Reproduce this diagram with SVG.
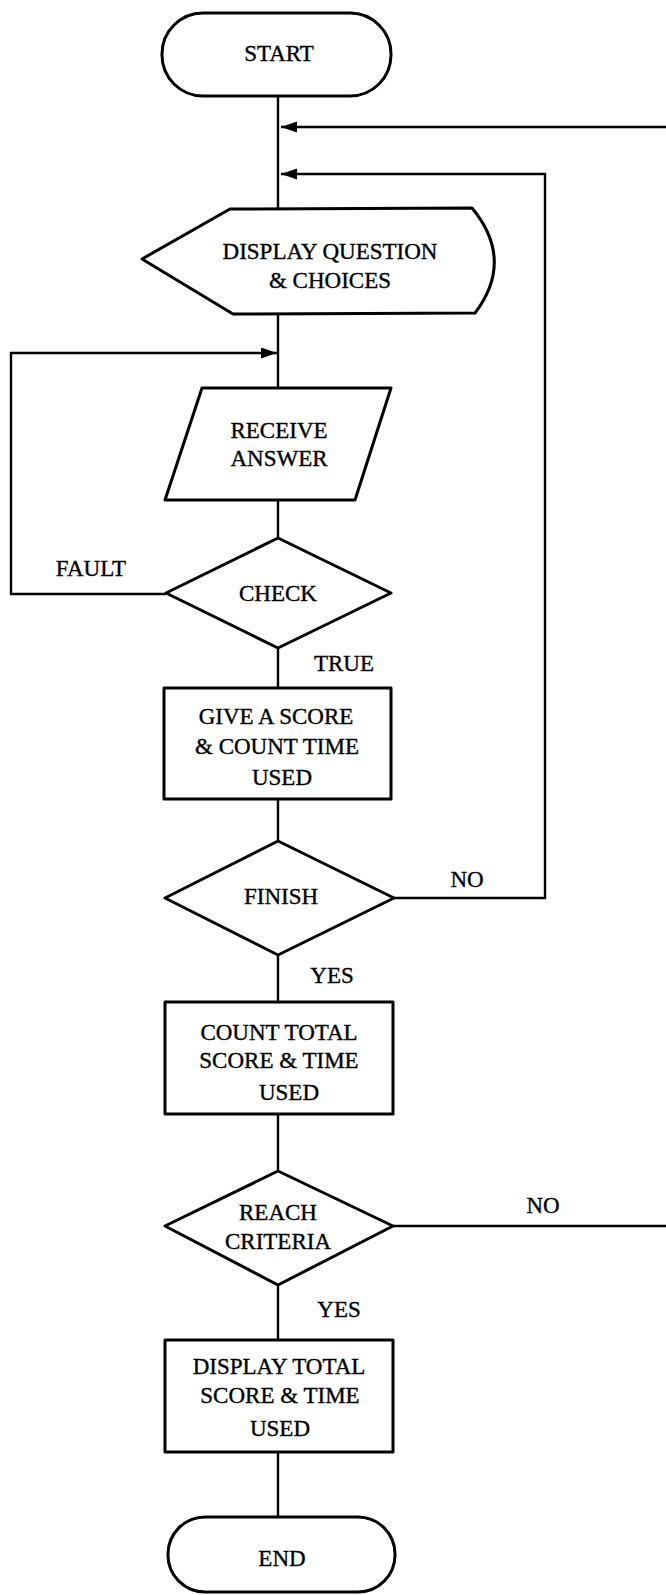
<svg xmlns="http://www.w3.org/2000/svg" width="666" height="1595" viewBox="0 0 666 1595">
<style>
.shape{fill:#fff;stroke:#000;stroke-width:3;stroke-linejoin:round}
.conn{fill:none;stroke:#000;stroke-width:2.4}
text{font-family:"Liberation Serif","Times New Roman",serif;font-size:23px;fill:#000;stroke:#000;stroke-width:0.35;text-anchor:middle}
</style>
<defs>
<marker id="ah" markerUnits="userSpaceOnUse" markerWidth="17" markerHeight="12" refX="16" refY="5.5" orient="auto">
<path d="M0,0 L16,5.5 L0,11 Z" fill="#000"/>
</marker>
</defs>
<g id="connectors">
<path class="conn" d="M278,96 L278,209"/>
<path class="conn" d="M666,127 L281,127" marker-end="url(#ah)"/>
<path class="conn" d="M394,898 L545,898 L545,174 L281,174" marker-end="url(#ah)"/>
<path class="conn" d="M278,314 L278,388"/>
<path class="conn" d="M166,594 L11,594 L11,353 L277,353" marker-end="url(#ah)"/>
<path class="conn" d="M278,500 L278,538"/>
<path class="conn" d="M278,648 L278,688"/>
<path class="conn" d="M278,799 L278,841"/>
<path class="conn" d="M278,955 L278,1002"/>
<path class="conn" d="M278,1114 L278,1171"/>
<path class="conn" d="M393,1226 L666,1226"/>
<path class="conn" d="M278,1285 L278,1340"/>
<path class="conn" d="M278,1452 L278,1517"/>
<text x="91" y="576">FAULT</text>
<text x="344" y="671">TRUE</text>
<text x="467" y="887">NO</text>
<text x="332" y="983">YES</text>
<text x="543" y="1213">NO</text>
<text x="339" y="1317">YES</text>
</g>
<g id="start">
<rect class="shape" x="162" y="13" width="229" height="83" rx="41" ry="41"/>
<text x="279" y="61">START</text>
</g>
<g id="display-question">
<path class="shape" d="M142,259 L230,209 L472,208 Q515,260 475,313 L233,314 Z"/>
<text x="330" y="259">DISPLAY QUESTION</text>
<text x="330" y="288">&amp; CHOICES</text>
</g>
<g id="receive-answer">
<polygon class="shape" points="202,388 391,388 355,500 165,500"/>
<text x="279" y="438">RECEIVE</text>
<text x="279" y="466">ANSWER</text>
</g>
<g id="check">
<polygon class="shape" points="278,538 391,593 278,648 166,593"/>
<text x="278" y="601">CHECK</text>
</g>
<g id="give-score">
<rect class="shape" x="164" y="688" width="227" height="111"/>
<text x="276" y="724">GIVE A SCORE</text>
<text x="277" y="754">&amp; COUNT TIME</text>
<text x="282" y="785">USED</text>
</g>
<g id="finish">
<polygon class="shape" points="278,841 394,898 278,955 165,898"/>
<text x="281" y="904">FINISH</text>
</g>
<g id="count-total">
<rect class="shape" x="165" y="1002" width="228" height="112"/>
<text x="279" y="1040">COUNT TOTAL</text>
<text x="279" y="1068">SCORE &amp; TIME</text>
<text x="289" y="1100">USED</text>
</g>
<g id="reach-criteria">
<polygon class="shape" points="278,1171 393,1226 278,1285 165,1226"/>
<text x="278" y="1220">REACH</text>
<text x="278" y="1249">CRITERIA</text>
</g>
<g id="display-total">
<rect class="shape" x="165" y="1340" width="228" height="112"/>
<text x="279" y="1374">DISPLAY TOTAL</text>
<text x="280" y="1403">SCORE &amp; TIME</text>
<text x="280" y="1436">USED</text>
</g>
<g id="end">
<rect class="shape" x="168" y="1517" width="227" height="75" rx="37" ry="37"/>
<text x="282" y="1566">END</text>
</g>
</svg>
